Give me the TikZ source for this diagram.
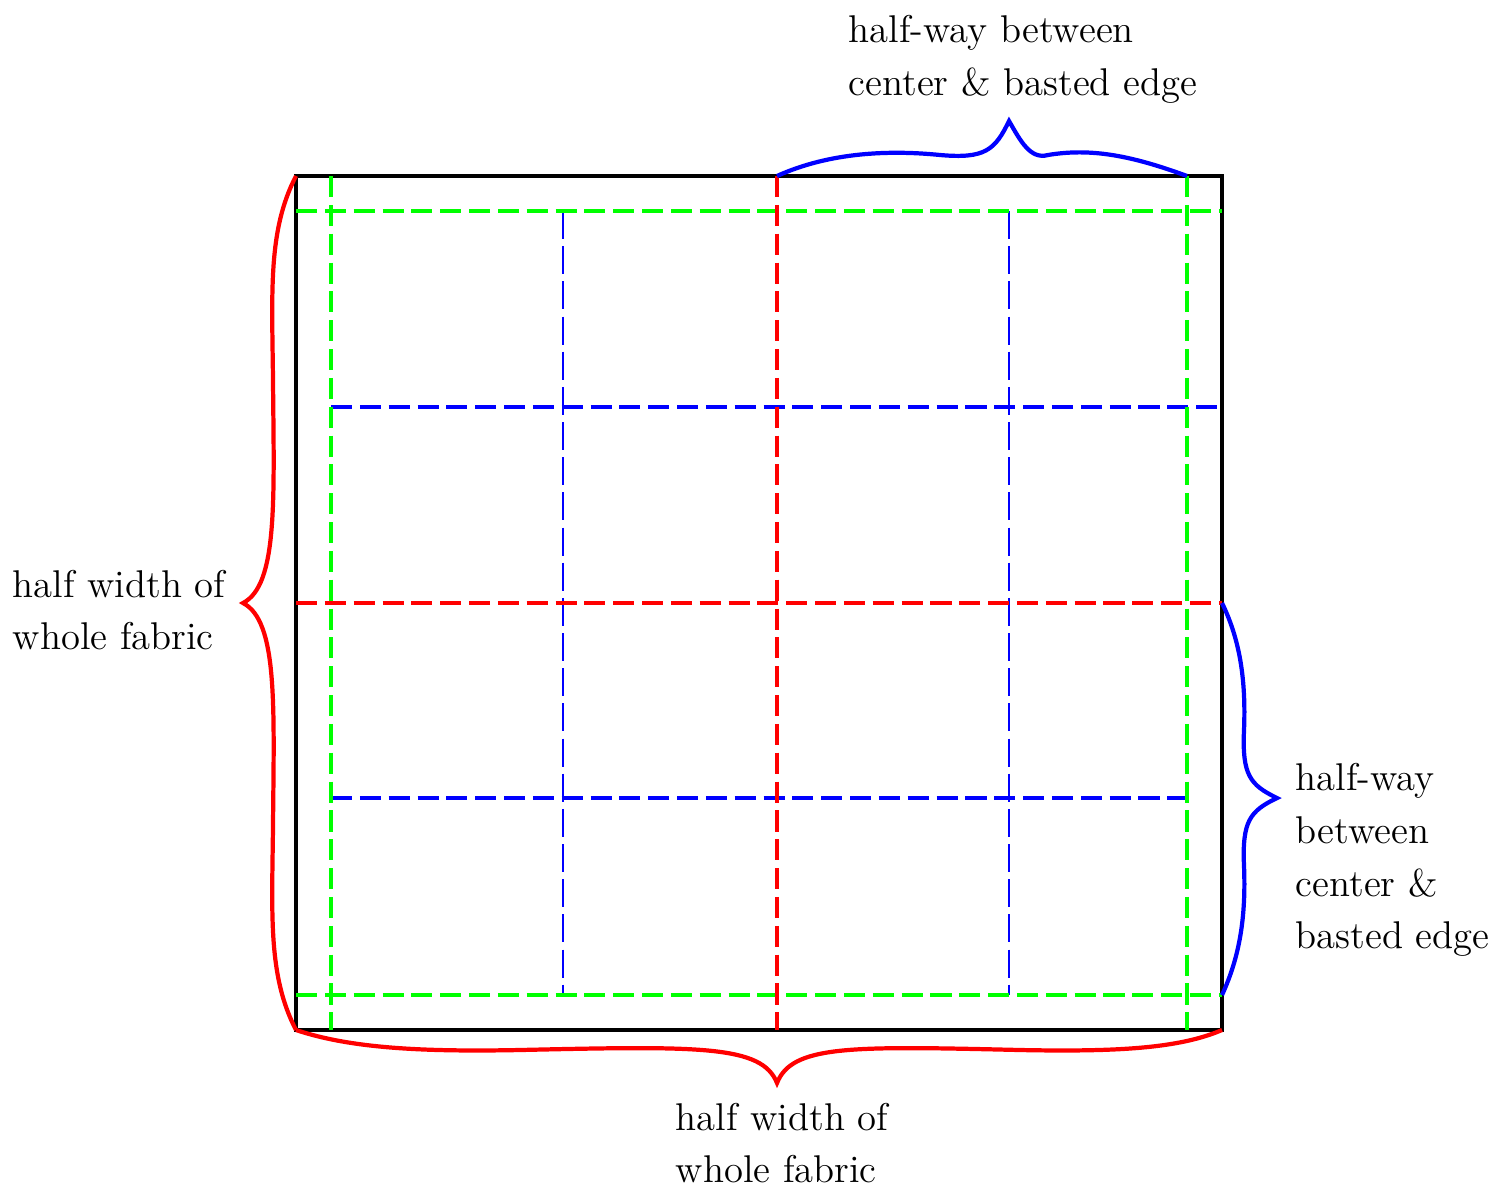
\documentclass[tikz,border=0pt]{standalone}
\usepackage{tikz}
\usetikzlibrary{positioning,calc}

\begin{document}
\begin{tikzpicture}[x=0.01cm,y=-0.01cm]
        \tikzset{
            label/.style={align=left, inner sep=0pt, anchor=west, font=\fontsize{11}{15}\selectfont},
            fabric/.style={draw=black, line width=1.1pt},
            baste/.style={green, line width=0.9pt, dash pattern=on 6pt off 2.2pt},
            centerline/.style={red, line width=0.9pt, dash pattern=on 6pt off 2.2pt},
            halfline/.style={blue, line width=0.9pt, dash pattern=on 6pt off 2.2pt},
            thinline/.style={blue, line width=0.3pt, dash pattern=on 8pt off 2pt},
            bigbrace/.style={red, line width=1.2pt},
            smallbrace/.style={blue, line width=1.2pt}
        }
        \useasboundingbox (0,0) rectangle (1498,1188);
        % corners of the fabric
        \coordinate (TL) at (296,176);
        \coordinate (TR) at (1222,176);
        \coordinate (BR) at (1222,1030);
        \coordinate (BL) at (296,1030);
        \coordinate (TM) at (777,176);
        \coordinate (TQ) at (1187,176);
        \coordinate (RM) at (1222,603);
        \coordinate (RQ) at (1222,995);
        \draw[fabric] (TL) rectangle (BR);
        % thin quarter lines
        \draw[thinline] (563,211) -- (563,995);
        \draw[thinline] (1009,211) -- (1009,995);
        % half-way lines
        \draw[halfline] (331,407) -- (1218,407);
        \draw[halfline] (331,798) -- (1187,798);
        % basted edge
        \draw[baste] (331,176) -- (331,1030);
        \draw[baste] (1187,176) -- (1187,1030);
        \draw[baste] (296,211) -- (1222,211);
        \draw[baste] (296,995) -- (1222,995);
        % center lines
        \draw[centerline] (TM) -- (777,1030);
        \draw[centerline] (296,603) -- (RM);
        % braces
        \draw[bigbrace] (TL) .. controls (268,230) and (272,290) .. (273,380)
            .. controls (274,500) and (278,585) .. (243,603)
            .. controls (278,621) and (274,706) .. (273,826)
            .. controls (272,916) and (268,976) .. (BL);
        \draw[bigbrace] (BL) .. controls (350,1048) and (420,1052) .. (520,1050)
            .. controls (700,1046) and (762,1045) .. (777,1083)
            .. controls (792,1045) and (850,1046) .. (1020,1050)
            .. controls (1120,1052) and (1180,1048) .. (BR);
        \draw[smallbrace] (TM) .. controls (830,152) and (890,150) .. (940,155)
            .. controls (985,159) and (995,150) .. (1009,121)
            .. controls (1020,140) and (1030,160) .. (1048,155)
            .. controls (1090,148) and (1130,155) .. (TQ);
        \draw[smallbrace] (RM) .. controls (1240,640) and (1246,680) .. (1244,730)
            .. controls (1242,775) and (1250,785) .. (1277,798)
            .. controls (1250,811) and (1242,821) .. (1244,866)
            .. controls (1246,916) and (1240,956) .. (RQ);
        % labels
        \node[label] (top) at (848,59) {half-way between\\center \& basted edge};
        \node[label] (left) at (12,610) {half width of\\whole fabric};
        \node[label] (bottom) at (675,1143) {half width of\\whole fabric};
        \node[label] (right) at (1295,860) {half-way\\between\\center \&\\basted edge};
    \end{tikzpicture}
\end{document}
